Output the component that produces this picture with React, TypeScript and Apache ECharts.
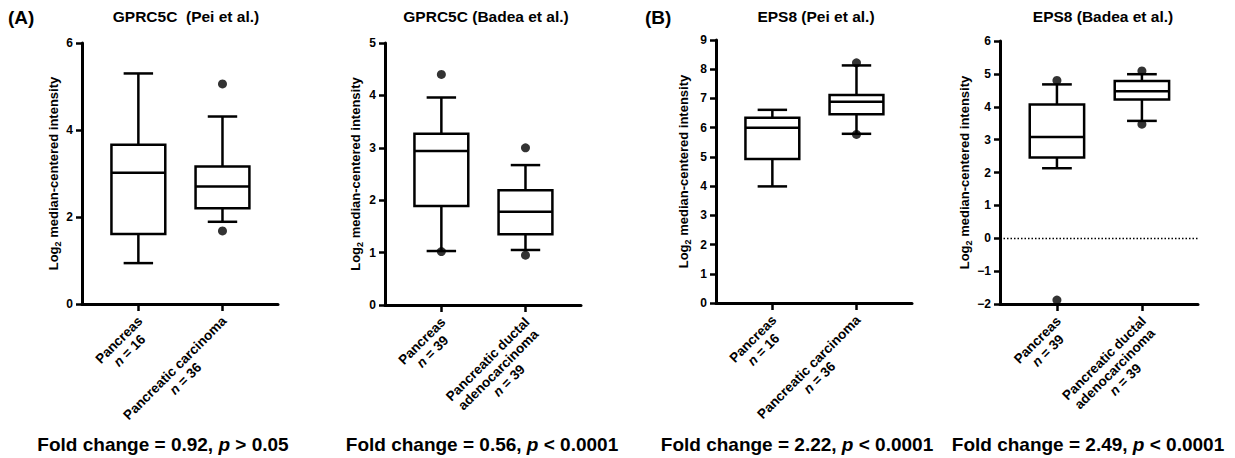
import React, { useEffect, useRef } from 'react';
import * as echarts from 'echarts';

// ---------- data ----------
const panelTitles = ['GPRC5C  (Pei et al.)', 'GPRC5C (Badea et al.)', 'EPS8 (Pei et al.)', 'EPS8 (Badea et al.)'];
const panelLetters = ['(A)', '(B)'];

// y axis ranges: [min, max, interval]
const yMins = [0, 0, 0, -2];
const yMaxs = [6, 5, 9, 6];
const yIntervals = [2, 1, 1, 1];

// box statistics: [lower whisker, Q1, median, Q3, upper whisker]
const normalBoxes = [
  [0.94, 1.61, 3.02, 3.66, 5.30],
  [1.03, 1.89, 2.94, 3.27, 3.96],
  [3.99, 4.93, 6.00, 6.34, 6.61],
  [2.13, 2.46, 3.08, 4.07, 4.68],
];
const tumourBoxes = [
  [1.89, 2.20, 2.70, 3.16, 4.31],
  [1.05, 1.35, 1.78, 2.19, 2.67],
  [5.79, 6.46, 6.89, 7.12, 8.13],
  [3.57, 4.22, 4.47, 4.78, 4.99],
];
const normalOutliers = [[], [4.40, 1.02], [], [4.80, -1.88]];
const tumourOutliers = [[5.06, 1.68], [3.00, 0.95], [8.22, 5.77], [5.09, 3.47]];

const normalNames = [['Pancreas'], ['Pancreas'], ['Pancreas'], ['Pancreas']];
const tumourNames = [
  ['Pancreatic carcinoma'],
  ['Pancreatic ductal', 'adenocarcinoma'],
  ['Pancreatic carcinoma'],
  ['Pancreatic ductal', 'adenocarcinoma'],
];
const normalN = [16, 39, 16, 39];
const tumourN = [36, 39, 36, 39];

const foldChanges = ['0.92', '0.56', '2.22', '2.49'];
const pSigns = ['>', '<', '<', '<'];
const pValues = ['0.05', '0.0001', '0.0001', '0.0001'];

// ---------- layout ----------
const FONT = '"Liberation Sans", Arial, Helvetica, sans-serif';
const grids = [
  { left: 82, top: 43, width: 196, height: 261 },
  { left: 385, top: 43, width: 196, height: 262 },
  { left: 716, top: 40, width: 196, height: 263 },
  { left: 1000, top: 41, width: 198, height: 263 },
];
const nameGaps = [19, 21, 24, 25];
const titleX = [186, 486, 816, 1103];
const footerX = [163, 482, 797, 1088];
const letterX = [8, 645];

const renderBox = (params: any, api: any) => {
  const x = api.value(0);
  const lo = api.coord([x, api.value(1)]);
  const q1 = api.coord([x, api.value(2)]);
  const med = api.coord([x, api.value(3)]);
  const q3 = api.coord([x, api.value(4)]);
  const hi = api.coord([x, api.value(5)]);
  const unit = api.size([1, 0])[0];
  const hb = unit * 0.32;
  const hc = unit * 0.175;
  const cx = lo[0];
  const st = { stroke: '#000', lineWidth: 2.5, fill: 'none' };
  return {
    type: 'group',
    children: [
      { type: 'line', shape: { x1: cx, y1: hi[1], x2: cx, y2: q3[1] }, style: st },
      { type: 'line', shape: { x1: cx, y1: q1[1], x2: cx, y2: lo[1] }, style: st },
      { type: 'line', shape: { x1: cx - hc, y1: hi[1], x2: cx + hc, y2: hi[1] }, style: st },
      { type: 'line', shape: { x1: cx - hc, y1: lo[1], x2: cx + hc, y2: lo[1] }, style: st },
      { type: 'rect', shape: { x: cx - hb, y: q3[1], width: 2 * hb, height: q1[1] - q3[1] }, style: { ...st, fill: '#fff' } },
      { type: 'line', shape: { x1: cx - hb, y1: med[1], x2: cx + hb, y2: med[1] }, style: st },
    ],
  };
};

const xLabel = (i: number) => (v: number) => {
  const k = Math.round(v);
  const names = k === 1 ? normalNames[i] : tumourNames[i];
  const n = k === 1 ? normalN[i] : tumourN[i];
  return names.map((l) => `{a|${l}}`).join('\n') + `\n{i|n}{a| = ${n}}`;
};

function buildOption() {
  const xAxis: any[] = [];
  const yAxis: any[] = [];
  const series: any[] = [];
  const graphic: any[] = [];
  const labelRich = {
    a: { align: 'center', fontWeight: 'bold', fontSize: 13.5, fontFamily: FONT, color: '#000', lineHeight: 15 },
    i: { align: 'center', fontWeight: 'bold', fontStyle: 'italic', fontSize: 13.5, fontFamily: FONT, color: '#000', lineHeight: 15 },
  };
  for (let i = 0; i < 4; i++) {
    xAxis.push({
      type: 'value',
      gridIndex: i,
      min: 0.33,
      max: 2.66,
      splitLine: { show: false },
      axisLine: { show: true, onZero: false, lineStyle: { color: '#000', width: 3 } },
      axisTick: { show: true, customValues: [1, 2], length: 7, lineStyle: { color: '#000', width: 2.5 } },
      axisLabel: {
        customValues: [1, 2],
        rotate: 45,
        align: 'right',
        verticalAlign: 'top',
        margin: 6,
        padding: [0, 5, 0, 0],
        formatter: xLabel(i),
        fontFamily: FONT,
        fontWeight: 'bold',
        fontSize: 13.5,
        color: '#000',
        lineHeight: 15,
        rich: labelRich,
      },
    });
    yAxis.push({
      type: 'value',
      gridIndex: i,
      min: yMins[i],
      max: yMaxs[i],
      interval: yIntervals[i],
      splitLine: { show: false },
      axisLine: { show: true, onZero: false, lineStyle: { color: '#000', width: 3 } },
      axisTick: { show: true, length: 6, lineStyle: { color: '#000', width: 2.5 } },
      axisLabel: {
        fontFamily: FONT,
        fontWeight: 'bold',
        fontSize: 12,
        color: '#000',
        margin: 9,
        formatter: (v: number) => (v < 0 ? '\u2212' + Math.abs(v) : String(v)),
      },
      name: '{m|Log}{s|2}{m| median-centered intensity}',
      nameLocation: 'middle',
      nameGap: nameGaps[i],
      nameTextStyle: {
        rich: {
          m: { fontFamily: FONT, fontWeight: 'bold', fontSize: 13, color: '#000', lineHeight: 18, verticalAlign: 'middle' },
          s: { fontFamily: FONT, fontWeight: 'bold', fontSize: 9, color: '#000', lineHeight: 10, verticalAlign: 'bottom' },
        },
      },
    });
    series.push({
      type: 'custom',
      xAxisIndex: i,
      yAxisIndex: i,
      renderItem: renderBox,
      encode: { x: 0, y: [1, 2, 3, 4, 5] },
      data: [[1, ...normalBoxes[i]], [2, ...tumourBoxes[i]]],
      z: 2,
    });
    const sc: any = {
      type: 'scatter',
      xAxisIndex: i,
      yAxisIndex: i,
      symbol: 'circle',
      symbolSize: 9,
      itemStyle: { color: '#000' },
      data: [...normalOutliers[i].map((v) => [1, v]), ...tumourOutliers[i].map((v) => [2, v])],
      z: 3,
    };
    if (yMins[i] < 0) {
      sc.markLine = {
        silent: true,
        symbol: 'none',
        label: { show: false },
        lineStyle: { color: '#000', width: 1.3, type: [1.5, 2] },
        data: [{ yAxis: 0 }],
      };
    }
    series.push(sc);

    graphic.push({
      type: 'text',
      x: titleX[i],
      y: 16,
      style: { text: panelTitles[i], fontFamily: FONT, fontWeight: 'bold', fontSize: 15.5, fill: '#000', align: 'center', verticalAlign: 'middle' },
    });
    graphic.push({
      type: 'text',
      x: footerX[i],
      y: 444,
      style: {
        text: `Fold change = ${foldChanges[i]}, {i|p} ${pSigns[i]} ${pValues[i]}`,
        fontFamily: FONT,
        fontWeight: 'bold',
        fontSize: 19,
        fill: '#000',
        align: 'center',
        verticalAlign: 'middle',
        rich: { i: { fontFamily: FONT, fontWeight: 'bold', fontStyle: 'italic', fontSize: 19, fill: '#000' } },
      },
    });
  }
  panelLetters.forEach((t, k) => {
    graphic.push({
      type: 'text',
      x: letterX[k],
      y: 17,
      style: { text: t, fontFamily: FONT, fontWeight: 'bold', fontSize: 19, fill: '#000', align: 'left', verticalAlign: 'middle' },
    });
  });

  return {
    animation: false,
    backgroundColor: '#fff',
    grid: grids.map((g) => ({ ...g, containLabel: false })),
    xAxis,
    yAxis,
    series,
    graphic,
  };
}

export default function App() {
  const ref = useRef<HTMLDivElement>(null);
  useEffect(() => {
    document.body.style.margin = '0';
    const chart = echarts.init(ref.current!, undefined, { renderer: 'svg' });
    chart.setOption(buildOption() as any);
    return () => chart.dispose();
  }, []);
  return <div ref={ref} style={{ width: 1235, height: 458 }} />;
}
